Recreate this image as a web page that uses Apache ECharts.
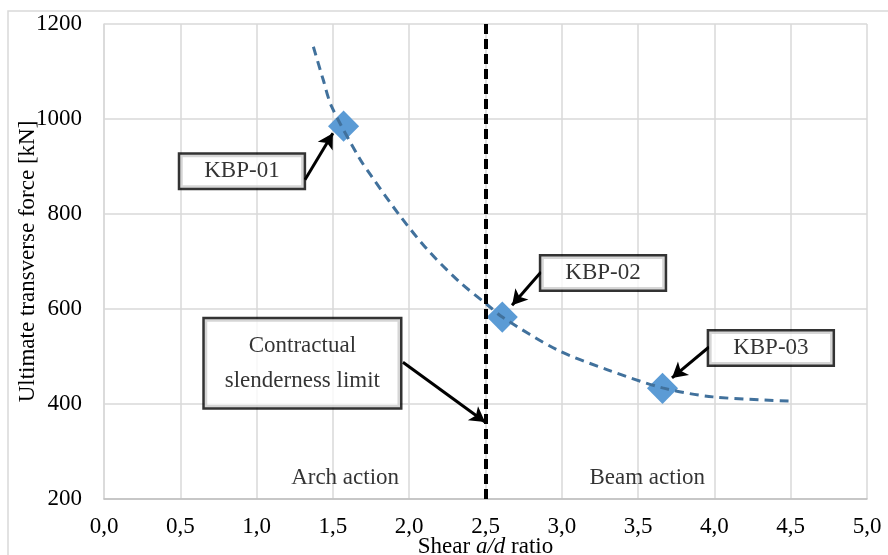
<html>
<head>
<title>Shear a/d ratio</title>
<style type="text/css">
body{
	margin:0;
	background-color:white;
}
#chart{
	width:888px;
	height:555px;
}
</style>
<script src="https://cdn.jsdelivr.net/npm/echarts@6/dist/echarts.min.js"></script>
</head>
<body>
	<div id="chart"></div>
	<script type="text/javascript">
		// test specimens
		var specimens = ['KBP-01', 'KBP-02', 'KBP-03'];
		var ratioAD = [1.57, 2.61, 3.66];
		var forceKN = [985, 583, 433];
		// trend line
		var trendX = [1.372, 1.437, 1.492, 1.671, 1.754, 1.940, 2.125, 2.333, 2.508, 2.61, 2.97, 3.30, 3.66, 3.99, 4.51];
		var trendY = [1152, 1082, 1026, 919, 879, 796, 723, 656, 610, 583, 514, 472, 434, 415, 406];
		var limitRatio = 2.5;
		var zoneNames = ['Arch action', 'Beam action'];

		var font = '"Liberation Serif", "Times New Roman", serif';
		var myChart = echarts.init(document.getElementById('chart'));

		var points = [];
		for (var i = 0; i < specimens.length; i++) {
			points.push({name: specimens[i], value: [ratioAD[i], forceKN[i]]});
		}
		var trend = [];
		for (var j = 0; j < trendX.length; j++) {
			trend.push([trendX[j], trendY[j]]);
		}

		var boxLabel = {
			show: true,
			position: 'inside',
			formatter: '{b}',
			color: '#000',
			fontFamily: font,
			fontSize: 23,
			lineHeight: 26,
			textBorderWidth: 0,
			textShadowBlur: 0,
			backgroundColor: '#fff',
			borderColor: '#000',
			borderWidth: 2.5,
			shadowBlur: 0,
			shadowColor: 'transparent',
			padding: [4, 24, 3, 24]
		};
		var plainLabel = {backgroundColor: 'transparent', borderWidth: 0};
		// callout boxes, placed in data space
		var callouts = [
			{name: specimens[0], value: [0.904, 890]},
			{name: specimens[1], value: [3.27, 676]},
			{name: specimens[2], value: [4.37, 518]},
			{name: 'Contractual\nslenderness limit', value: [1.30, 486],
				label: {lineHeight: 35, padding: [9, 20, 9, 20]}},
			{name: zoneNames[0], value: [1.58, 244], label: plainLabel},
			{name: zoneNames[1], value: [3.56, 244], label: plainLabel}
		];
		var arrows = [
			[{coord: [1.317, 872]}, {coord: [1.50, 970]}],
			[{coord: [2.864, 678]}, {coord: [2.674, 608]}],
			[{coord: [3.965, 520]}, {coord: [3.722, 455]}],
			[{coord: [1.959, 488]}, {coord: [2.497, 362]}]
		];

		var option = {
			animation: false,
			textStyle: {fontFamily: font},
			graphic: [{
				type: 'rect',
				shape: {x: 8, y: 11, width: 900, height: 600},
				style: {fill: 'none', stroke: '#d9d9d9', lineWidth: 1.5},
				silent: true
			}],
			grid: {left: 104, right: 21, top: 24, bottom: 56, containLabel: false, outerBoundsMode: 'none'},
			xAxis: {
				type: 'value',
				min: 0,
				max: 5,
				interval: 0.5,
				name: 'Shear {i|a/d} ratio',
				nameLocation: 'middle',
				nameGap: 30,
				nameMoveOverlap: false,
				nameTextStyle: {
					color: '#000', fontFamily: font, fontSize: 23,
					rich: {i: {fontStyle: 'italic', fontFamily: font, fontSize: 23, color: '#000'}}
				},
				axisLine: {show: true, lineStyle: {color: '#bfbfbf', width: 1.5}},
				axisTick: {show: false},
				axisLabel: {
					color: '#000', fontFamily: font, fontSize: 23, margin: 10,
					formatter: function (v) { return v.toFixed(1).replace('.', ','); }
				},
				splitLine: {show: true, lineStyle: {color: '#d9d9d9', width: 1.5}}
			},
			yAxis: {
				type: 'value',
				min: 200,
				max: 1200,
				interval: 200,
				name: 'Ultimate transverse force [kN]',
				nameLocation: 'middle',
				nameGap: 58,
				nameMoveOverlap: false,
				nameTextStyle: {color: '#000', fontFamily: font, fontSize: 23},
				axisLine: {show: true, lineStyle: {color: '#d9d9d9', width: 1.5}},
				axisTick: {show: false},
				axisLabel: {
					color: '#000', fontFamily: font, fontSize: 23, margin: 22,
					formatter: function (v) { return String(v); }
				},
				splitLine: {show: true, lineStyle: {color: '#d9d9d9', width: 1.5}}
			},
			series: [{
				name: 'trend',
				type: 'line',
				smooth: 0.3,
				symbol: 'none',
				silent: true,
				lineStyle: {color: '#41719c', width: 3, type: [9, 6]},
				data: trend,
				markLine: {
					silent: true,
					symbol: ['none', 'none'],
					label: {show: false},
					lineStyle: {color: '#000', width: 4, type: [10, 5]},
					data: [{xAxis: limitRatio}]
				},
				z: 3
			}, {
				name: 'specimens',
				type: 'scatter',
				symbol: 'rect',
				symbolSize: 22,
				symbolRotate: 45,
				itemStyle: {color: '#5b9bd5', opacity: 1},
				data: points,
				z: 2
			}, {
				name: 'callouts',
				type: 'scatter',
				symbolSize: 0,
				silent: true,
				label: boxLabel,
				data: callouts,
				markLine: {
					silent: true,
					symbol: ['none', 'arrow'],
					symbolSize: [13, 15],
					label: {show: false},
					lineStyle: {color: '#000', width: 3, type: 'solid'},
					data: arrows
				},
				z: 5
			}]
		};

		myChart.setOption(option);
	</script>
</body>
</html>
